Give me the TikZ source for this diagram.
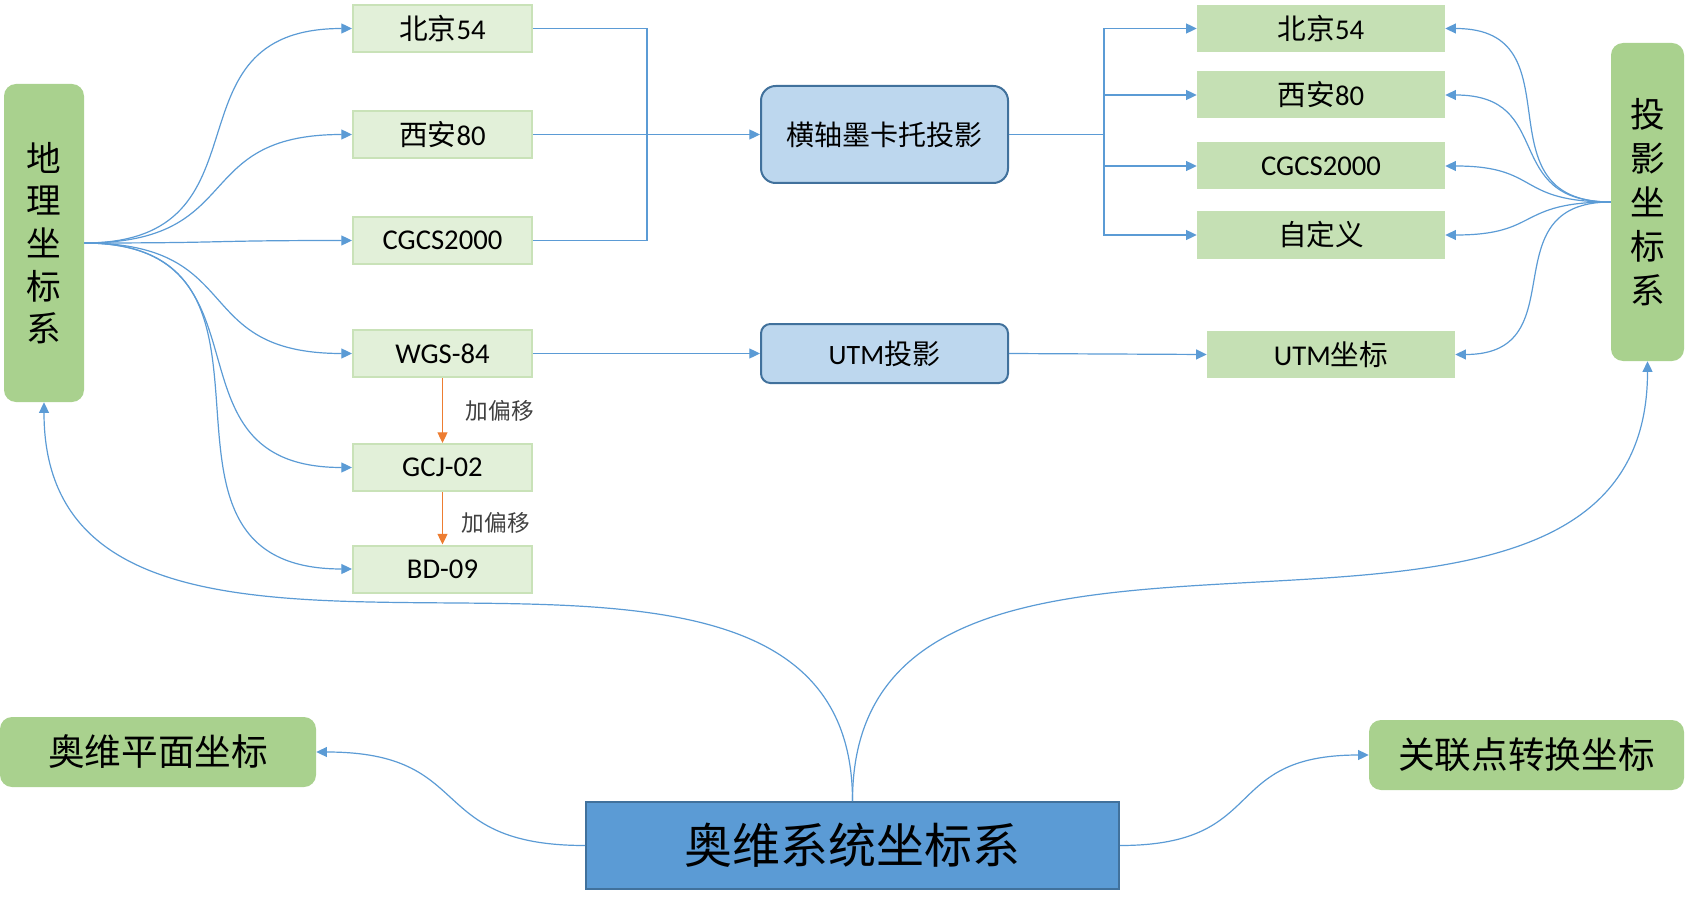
\documentclass[tikz,border=0pt]{standalone}
\usepackage{fontspec}
\setmainfont{Carlito}
\newfontfamily\cjk{Noto Sans CJK SC}
\usepackage{tikz}
\usetikzlibrary{arrows.meta,positioning}
\usepackage{xcolor}
\definecolor{PaleGreen}{HTML}{E2F0D9}
\definecolor{EdgeGreen}{HTML}{C9E2B8}
\definecolor{MidGreen}{HTML}{C5E0B4}
\definecolor{LeafGreen}{HTML}{A9D18E}
\definecolor{SkyBlue}{HTML}{BDD7EE}
\definecolor{DeepBlue}{HTML}{5B9BD5}
\definecolor{InkBlue}{HTML}{41719C}
\definecolor{LineBlue}{HTML}{5B9BD5}
\definecolor{Offset}{HTML}{ED7D31}

\begin{document}
\begin{tikzpicture}[x=0.75pt,y=-0.75pt,every node/.style={inner sep=0pt},
  lbox/.style={draw=EdgeGreen,line width=1.5pt,fill=PaleGreen,minimum width=134.25pt,minimum height=35.25pt,font=\fontsize{21.5}{25}\selectfont},
  rbox/.style={fill=MidGreen,minimum width=186pt,minimum height=35.25pt,font=\fontsize{21.5}{25}\selectfont},
  tall/.style={fill=LeafGreen,rounded corners=9pt,minimum height=238.5pt,align=center},
  wide/.style={fill=LeafGreen,rounded corners=9pt,minimum height=52.5pt,font=\fontsize{27.5}{32}\selectfont\cjk},
  projbox/.style={draw=InkBlue,line width=1.5pt,fill=SkyBlue,minimum width=185.25pt,font=\fontsize{21}{25}\selectfont},
  arr/.style={draw=LineBlue,line width=0.9pt,-{Triangle[length=8pt,width=7.5pt]}},
  ln/.style={draw=LineBlue,line width=0.9pt},
  oarr/.style={draw=Offset,line width=0.9pt,-{Triangle[length=8pt,width=7.5pt]}},
  lbl/.style={font=\fontsize{17}{20}\selectfont\cjk,text=black!75}]
\useasboundingbox (0,0) rectangle (1690,902);

% left: geographic systems
\node[tall,minimum width=60pt,font=\fontsize{26}{32}\selectfont\cjk] (geo) at (44,243) {地\\理\\坐\\标\\系};
\node[lbox] (lbj) at (442.5,28.5) {{\cjk 北京}54};
\node[lbox] (lxa) at (442.5,134.5) {{\cjk 西安}80};
\node[lbox] (lcg) at (442.5,240.5) {CGCS2000};
\node[lbox] (lwgs) at (442.5,353.5) {WGS-84};
\node[lbox] (lgcj) at (442.5,467.5) {GCJ-02};
\node[lbox] (lbd) at (442.5,569) {BD-09};

% middle: projections
\node[projbox,rounded corners=11pt,minimum height=72.75pt] (tm) at (884.5,134.5) {\cjk 横轴墨卡托投影};
\node[projbox,rounded corners=7pt,minimum height=44.25pt] (utmp) at (884.5,353.5) {UTM{\cjk 投影}};

% right: projected systems
\node[rbox] (rbj) at (1321,28.5) {{\cjk 北京}54};
\node[rbox] (rxa) at (1321,95) {{\cjk 西安}80};
\node[rbox] (rcg) at (1321,166) {CGCS2000};
\node[rbox] (rzd) at (1321,235) {\cjk 自定义};
\node[rbox] (rutm) at (1331,354.5) {UTM{\cjk 坐标}};
\node[tall,minimum width=54.75pt,font=\fontsize{26}{33}\selectfont\cjk] (proj) at (1647.5,202) {投\\影\\坐\\标\\系};

% bottom
\node[draw=InkBlue,line width=1.5pt,fill=DeepBlue,minimum width=399.75pt,minimum height=65.25pt,font=\fontsize{36}{40}\selectfont\cjk] (main) at (852.5,845.5) {奥维系统坐标系};
\node[wide,minimum width=237pt] (plane) at (158,752) {奥维平面坐标};
\node[wide,minimum width=236.25pt] (rel) at (1526.5,755) {关联点转换坐标};

\coordinate (jl) at (647,134.5);
\coordinate (jr) at (1104,134.5);

\foreach \t in {lbj,lxa,lcg,lwgs,lgcj,lbd}
  \draw[arr] (geo.east) to[out=0,in=180,looseness=1.45] (\t.west);
\foreach \t in {rbj,rxa,rcg,rzd,rutm}
  \draw[arr] (proj.west) to[out=180,in=0,looseness=1.45] (\t.east);

\draw[ln] (lbj.east) -| (jl) |- (lcg.east);
\draw[arr] (lxa.east) -- (tm.west);
\draw[ln] (tm.east) -- (jr);
\foreach \t in {rbj,rxa,rcg,rzd}
  \draw[arr] (jr) |- (\t.west);

\draw[arr] (lwgs.east) -- (utmp.west);
\draw[arr] (utmp.east) -- (rutm.west);
\draw[oarr] (lwgs) -- node[lbl,anchor=west,xshift=17pt] {加偏移} (lgcj);
\draw[oarr] (lgcj) -- node[lbl,anchor=west,xshift=14pt,yshift=-3.75pt] {加偏移} (lbd);

\draw[arr] (main.north) to[out=90,in=-90,looseness=1.1] (geo.south);
\draw[arr] (main.north) to[out=90,in=-90,looseness=1.1] (proj.south);
\draw[arr] (main.west) to[out=180,in=0,looseness=1.45] (plane.east);
\draw[arr] (main.east) to[out=0,in=180,looseness=1.45] (rel.west);
\end{tikzpicture}
\end{document}
